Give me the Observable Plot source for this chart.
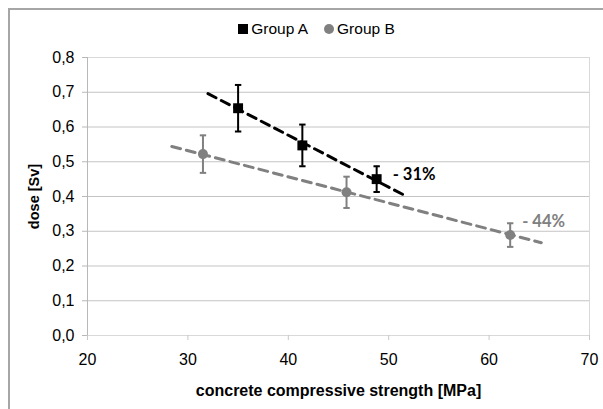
<!DOCTYPE html>
<html>
<head>
<meta charset="utf-8">
<script src="https://cdn.jsdelivr.net/npm/d3@7"></script>
<script src="https://cdn.jsdelivr.net/npm/@observablehq/plot@0.6"></script>
<style>
  html, body { margin: 0; padding: 0; background: #fff; }
  body { width: 603px; height: 409px; overflow: hidden; position: relative; font-family: "Liberation Sans", Arial, sans-serif; }
  #border { position: absolute; left: 8px; top: 8px; width: 700px; height: 500px; border: 2px solid #a6a6a6; box-sizing: border-box; }
  #legend { position: absolute; left: 0; top: 20px; width: 603px; display: flex; justify-content: center; align-items: center; font-size: 15.5px; color: #000; padding-left: 30px; box-sizing: border-box; }
  #legend .item { display: flex; align-items: center; margin: 0 8px; }
  #legend .sq { width: 10px; height: 10px; background: #000; margin-right: 3px; }
  #legend .ci { width: 10px; height: 10px; background: #808080; border-radius: 50%; margin-right: 3px; }
  #chart { position: absolute; left: 0; top: 0; }
</style>
</head>
<body>
<div id="border"></div>
<div id="chart"></div>
<div id="legend">
  <div class="item"><span class="sq"></span>Group A</div>
  <div class="item"><span class="ci"></span>Group B</div>
</div>
<script>
// ---- data ----
const groupA_x = [35.0, 41.4, 48.8];
const groupA_y = [0.654, 0.547, 0.450];
const groupA_err = [0.067, 0.060, 0.037];

const groupB_x = [31.5, 45.8, 62.1];
const groupB_y = [0.522, 0.412, 0.289];
const groupB_err = [0.054, 0.045, 0.034];

const trendA_x = [32.0, 51.8];
const trendA_y = [0.696, 0.400];
const trendB_x = [28.4, 65.2];
const trendB_y = [0.544, 0.267];

const changeLabels = ["- 31%", "- 44%"];

const xTicks = [20, 30, 40, 50, 60, 70];
const yTicks = [0, 0.1, 0.2, 0.3, 0.4, 0.5, 0.6, 0.7, 0.8];

const xTitle = "concrete compressive strength [MPa]";
const yTitle = "dose [Sv]";

// ---- tables built from the arrays ----
const A = groupA_x.map((x, i) => ({x, y: groupA_y[i], lo: groupA_y[i] - groupA_err[i], hi: groupA_y[i] + groupA_err[i]}));
const B = groupB_x.map((x, i) => ({x, y: groupB_y[i], lo: groupB_y[i] - groupB_err[i], hi: groupB_y[i] + groupB_err[i]}));
const TA = trendA_x.map((x, i) => ({x, y: trendA_y[i]}));
const TB = trendB_x.map((x, i) => ({x, y: trendB_y[i]}));
const lastA = [{...A[A.length - 1], label: changeLabels[0]}];
const lastB = [{...B[B.length - 1], label: changeLabels[1]}];

const hline = {draw(ctx, size) { const r = Math.sqrt(size / Math.PI); ctx.moveTo(-r, 0); ctx.lineTo(r, 0); }};
const fmt = d => d.toFixed(1).replace(".", ",");
const gray = "#808080";

function errorMarks(data, color) {
  return [
    Plot.ruleX(data, {x: "x", y1: "lo", y2: "hi", stroke: color, strokeWidth: 2}),
    Plot.dot(data, {x: "x", y: "lo", symbol: hline, r: 3.2, stroke: color, strokeWidth: 2, fill: "none"}),
    Plot.dot(data, {x: "x", y: "hi", symbol: hline, r: 3.2, stroke: color, strokeWidth: 2, fill: "none"})
  ];
}

const chart = Plot.plot({
  width: 603,
  height: 409,
  marginLeft: 87,
  marginRight: 14,
  marginTop: 57,
  marginBottom: 74,
  style: {fontFamily: "'Liberation Sans', Arial, sans-serif", background: "transparent", color: "#000"},
  x: {domain: [20, 70]},
  y: {domain: [0, 0.8]},
  marks: [
    Plot.ruleY(yTicks, {stroke: "#c4c4c4", strokeWidth: 1}),
    Plot.frame({stroke: "#d9d9d9"}),
    Plot.ruleX([20], {stroke: "#b8b8b8"}),
    Plot.axisY({ticks: yTicks, tickFormat: fmt, tickSize: 5, tickPadding: 8, stroke: "#b8b8b8", fontSize: 16, label: null}),
    Plot.axisX({ticks: xTicks, tickSize: 5, tickPadding: 13, stroke: "#c8c8c8", fontSize: 16, label: null}),
    Plot.axisY([], {label: yTitle, labelAnchor: "center", labelArrow: "none", labelOffset: 59, fontSize: 14.5, fontWeight: "bold"}),
    Plot.axisX([], {label: xTitle, labelAnchor: "center", labelArrow: "none", labelOffset: 60, fontSize: 16, fontWeight: "bold"}),
    Plot.line(TB, {x: "x", y: "y", stroke: gray, strokeWidth: 3, strokeDasharray: "9,6"}),
    Plot.line(TA, {x: "x", y: "y", stroke: "#000", strokeWidth: 3, strokeDasharray: "9,6"}),
    ...errorMarks(B, gray),
    ...errorMarks(A, "#000"),
    Plot.dot(B, {x: "x", y: "y", symbol: "circle", r: 5, fill: gray}),
    Plot.dot(A, {x: "x", y: "y", symbol: "square", r: 5.6, fill: "#000"}),
    Plot.text(lastA, {x: "x", y: "y", text: "label", textAnchor: "start", dx: 16, dy: -4, fill: "#000", fontSize: 16.5, fontWeight: "bold", fontFamily: "Lato, 'Open Sans', sans-serif"}),
    Plot.text(lastB, {x: "x", y: "y", text: "label", textAnchor: "start", dx: 12, dy: -13, fill: gray, fontSize: 16.5, fontWeight: "bold", fontFamily: "Lato, 'Open Sans', sans-serif"})
  ]
});
document.getElementById("chart").appendChild(chart);
</script>
</body>
</html>
